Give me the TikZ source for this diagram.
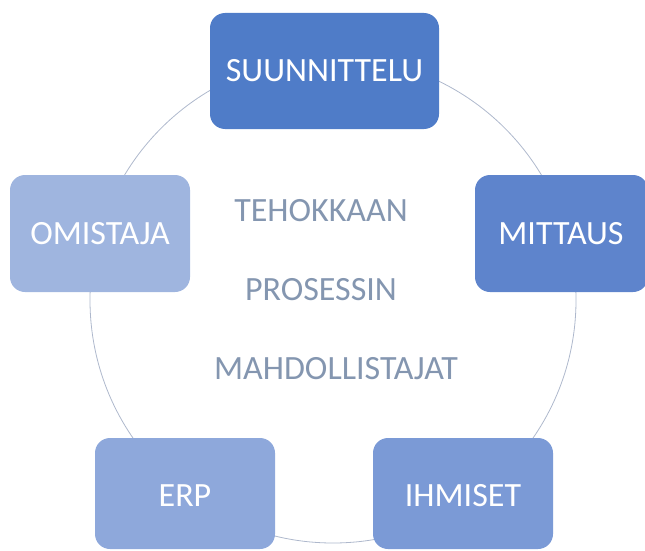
\documentclass[tikz,border=0pt]{standalone}
\usepackage{fontspec}
\setmainfont{Carlito}
\definecolor{cA}{HTML}{4F7CC8}
\definecolor{cB}{HTML}{5E84CC}
\definecolor{cC}{HTML}{7B9AD6}
\definecolor{cD}{HTML}{8EA8DB}
\definecolor{cE}{HTML}{9FB5DF}
\definecolor{ctext}{HTML}{8496B0}
\definecolor{cring}{HTML}{AEB8CC}
\tikzset{
  boxtext/.style={text=white, font=\fontsize{34}{36}\selectfont, inner sep=0pt},
  mid/.style={text=ctext, font=\fontsize{34}{36}\selectfont, inner sep=0pt},
}
\begin{document}
\begin{tikzpicture}[x=1pt,y=-1pt]
\useasboundingbox (0,0) rectangle (645,551);
\draw[cring, line width=0.8pt] (333,300) circle[radius=243];
\fill[cA, rounded corners=15pt] (210,13) rectangle (439,129);
\node[boxtext] (s) at (324.5,71) {SUUNNITTELU};
\fill[cB, rounded corners=15pt] (475,175) rectangle (648,292);
\node[boxtext] (m) at (561,233.5) {MITTAUS};
\fill[cC, rounded corners=15pt] (373,438) rectangle (553,549);
\node[boxtext] (i) at (463,496) {IHMISET};
\fill[cD, rounded corners=15pt] (95,438) rectangle (275,549);
\node[boxtext] (e) at (185,496) {ERP};
\fill[cE, rounded corners=15pt] (10,175) rectangle (190,292);
\node[boxtext] (o) at (100,233.5) {OMISTAJA};
\node[mid] (t1) at (321,211) {TEHOKKAAN};
\node[mid] (t2) at (321,290) {PROSESSIN};
\node[mid] (t3) at (336,369) {MAHDOLLISTAJAT};
\end{tikzpicture}
\end{document}
